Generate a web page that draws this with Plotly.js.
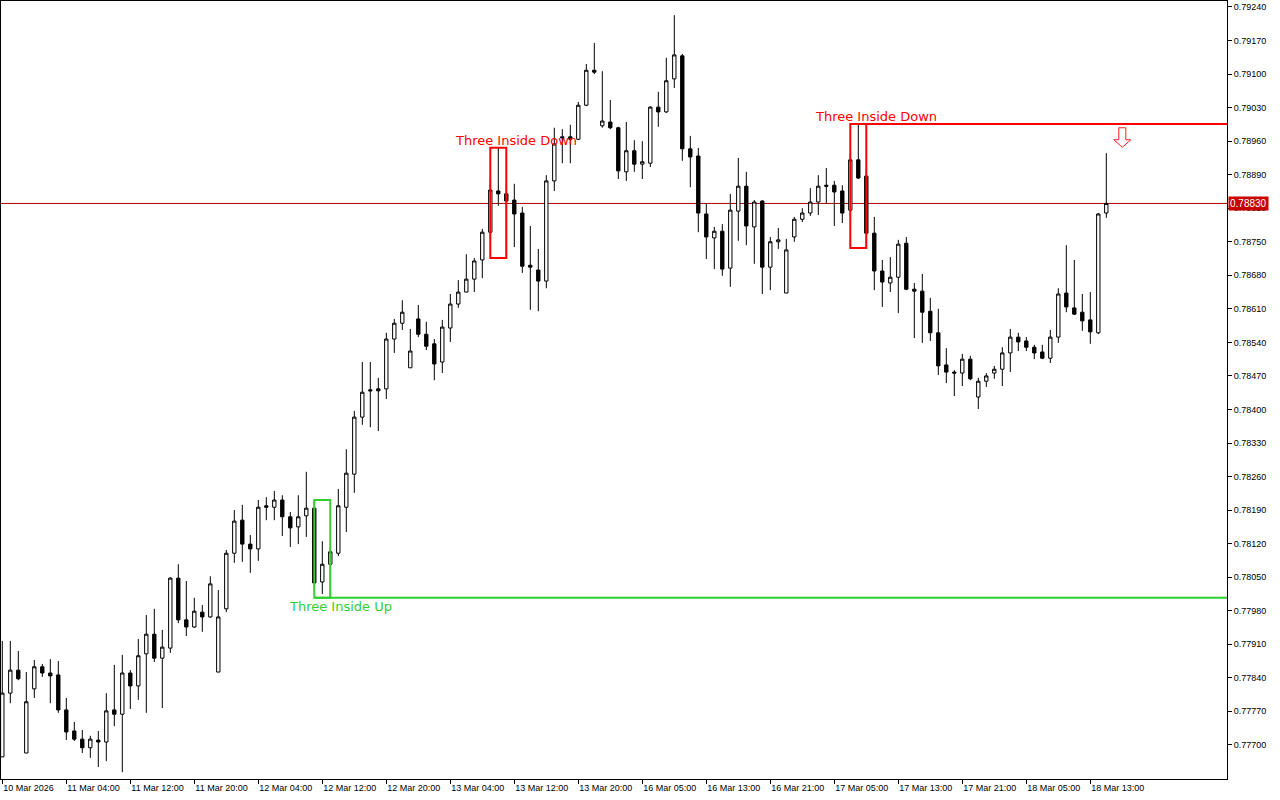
<!DOCTYPE html>
<html>
<head>
<meta charset="utf-8">
<script src="https://cdn.plot.ly/plotly-3.0.1.min.js"></script>
<style>
html,body{margin:0;padding:0;background:#fff;}
#chart{width:1280px;height:800px;}
</style>
</head>
<body>
<div id="chart"></div>
<script>
// ---- H1 candles (index 0 = 10 Mar 2026 20:00) ----
var open = [
0.77675,0.77808,0.77856,0.77683,0.77817,0.77863,0.77850,0.77846,0.77773,0.77729,
0.77712,0.77694,0.77710,0.77706,0.77773,0.77764,0.77850,0.77823,0.77890,0.77931,
0.77881,0.77902,0.78048,0.77961,0.77946,0.77977,0.77967,0.77852,0.77984,0.78100,
0.78169,0.78119,0.78109,0.78199,0.78196,0.78211,0.78176,0.78155,0.78178,0.78194,
0.78040,0.78077,0.78100,0.78196,0.78265,0.78384,0.78441,0.78443,0.78443,0.78547,
0.78580,0.78487,0.78589,0.78557,0.78537,0.78499,0.78570,0.78620,0.78645,0.78672,
0.78712,0.78770,0.78856,0.78850,0.78837,0.78810,0.78701,0.78691,0.78668,0.78877,
0.78969,0.78969,0.78964,0.79035,0.79108,0.78992,0.79000,0.78988,0.78896,0.78940,
0.78912,0.78914,0.79031,0.79021,0.79090,0.79138,0.78944,0.78929,0.78808,0.78758,
0.78772,0.78695,0.78814,0.78866,0.78781,0.78835,0.78697,0.78750,0.78643,0.78760,
0.78797,0.78810,0.78833,0.78868,0.78868,0.78856,0.78816,0.78921,0.78887,0.78768,
0.78689,0.78664,0.78676,0.78747,0.78651,0.78647,0.78605,0.78560,0.78493,0.78478,
0.78476,0.78505,0.78426,0.78459,0.78476,0.78484,0.78518,0.78551,0.78543,0.78530,
0.78520,0.78507,0.78551,0.78643,0.78612,0.78603,0.78587,0.78560,0.78810
];
var high = [
0.77917,0.77917,0.77896,0.77852,0.77877,0.77869,0.77879,0.77875,0.77798,0.77748,
0.77731,0.77719,0.77729,0.77808,0.77867,0.77888,0.77856,0.77921,0.77971,0.77984,
0.77940,0.78050,0.78077,0.78042,0.78007,0.77992,0.78052,0.78023,0.78107,0.78190,
0.78201,0.78138,0.78211,0.78217,0.78230,0.78221,0.78186,0.78221,0.78270,0.78211,
0.78125,0.78113,0.78234,0.78317,0.78397,0.78499,0.78499,0.78466,0.78560,0.78589,
0.78628,0.78568,0.78618,0.78583,0.78547,0.78587,0.78641,0.78670,0.78724,0.78716,
0.78777,0.78883,0.78946,0.78871,0.78871,0.78823,0.78783,0.78735,0.78889,0.78988,
0.78985,0.78994,0.79042,0.79121,0.79165,0.79106,0.79046,0.78990,0.79000,0.78962,
0.78960,0.79033,0.79063,0.79134,0.79223,0.79142,0.78971,0.78946,0.78831,0.78781,
0.78787,0.78850,0.78925,0.78896,0.78837,0.78837,0.78760,0.78779,0.78756,0.78802,
0.78820,0.78862,0.78889,0.78904,0.78877,0.78868,0.78935,0.78996,0.78904,0.78802,
0.78712,0.78718,0.78754,0.78760,0.78664,0.78683,0.78633,0.78610,0.78528,0.78482,
0.78516,0.78512,0.78466,0.78476,0.78491,0.78530,0.78568,0.78560,0.78551,0.78535,
0.78535,0.78566,0.78653,0.78743,0.78712,0.78641,0.78645,0.78810,0.78935
];
var low = [
0.77675,0.77787,0.77835,0.77683,0.77798,0.77842,0.77787,0.77767,0.77710,0.77708,
0.77683,0.77673,0.77654,0.77666,0.77739,0.77643,0.77775,0.77794,0.77767,0.77873,
0.77777,0.77892,0.77954,0.77927,0.77944,0.77936,0.77965,0.77852,0.77977,0.78080,
0.78082,0.78059,0.78084,0.78169,0.78169,0.78136,0.78113,0.78119,0.78134,0.78025,
0.78015,0.78007,0.78094,0.78144,0.78226,0.78368,0.78363,0.78355,0.78422,0.78518,
0.78566,0.78487,0.78551,0.78524,0.78461,0.78476,0.78541,0.78612,0.78645,0.78645,
0.78674,0.78756,0.78825,0.78716,0.78739,0.78685,0.78608,0.78605,0.78653,0.78856,
0.78914,0.78914,0.78962,0.79033,0.79100,0.78988,0.78985,0.78881,0.78877,0.78896,
0.78881,0.78906,0.78990,0.79019,0.79071,0.78919,0.78864,0.78770,0.78714,0.78693,
0.78679,0.78656,0.78752,0.78743,0.78704,0.78641,0.78649,0.78735,0.78643,0.78750,
0.78791,0.78804,0.78806,0.78829,0.78783,0.78789,0.78802,0.78881,0.78737,0.78649,
0.78614,0.78645,0.78601,0.78649,0.78549,0.78539,0.78543,0.78472,0.78455,0.78428,
0.78449,0.78461,0.78401,0.78447,0.78464,0.78449,0.78478,0.78522,0.78522,0.78505,
0.78505,0.78497,0.78539,0.78603,0.78597,0.78564,0.78537,0.78557,0.78800
];
var close = [
0.77808,0.77856,0.77838,0.77790,0.77863,0.77850,0.77844,0.77773,0.77727,0.77712,
0.77694,0.77712,0.77706,0.77771,0.77764,0.77850,0.77823,0.77886,0.77931,0.77881,
0.77904,0.78048,0.77961,0.77946,0.77979,0.77967,0.78036,0.77967,0.78100,0.78167,
0.78119,0.78109,0.78196,0.78196,0.78211,0.78176,0.78153,0.78176,0.78194,0.78038,
0.78077,0.78103,0.78199,0.78267,0.78384,0.78436,0.78439,0.78439,0.78547,0.78580,
0.78603,0.78522,0.78557,0.78532,0.78495,0.78572,0.78620,0.78645,0.78672,0.78710,
0.78770,0.78858,0.78850,0.78835,0.78808,0.78699,0.78697,0.78668,0.78877,0.78954,
0.78967,0.78964,0.79035,0.79108,0.79104,0.79002,0.78988,0.78898,0.78940,0.78912,
0.78917,0.79031,0.79021,0.79086,0.79140,0.78944,0.78927,0.78810,0.78760,0.78772,
0.78693,0.78816,0.78866,0.78783,0.78833,0.78697,0.78750,0.78754,0.78733,0.78797,
0.78810,0.78833,0.78866,0.78866,0.78854,0.78810,0.78921,0.78883,0.78768,0.78689,
0.78666,0.78676,0.78745,0.78651,0.78647,0.78603,0.78560,0.78491,0.78478,0.78476,
0.78505,0.78464,0.78459,0.78470,0.78484,0.78518,0.78551,0.78541,0.78530,0.78518,
0.78507,0.78551,0.78641,0.78614,0.78599,0.78585,0.78562,0.78808,0.78830
];

// time axis labels (every 8th bar)
var tickIndex = [0,8,16,24,32,40,48,56,64,72,80,88,96,104,112,120,128,136];
var tickLabels = ["10 Mar 2026","11 Mar 04:00","11 Mar 12:00","11 Mar 20:00","12 Mar 04:00",
  "12 Mar 12:00","12 Mar 20:00","13 Mar 04:00","13 Mar 12:00","13 Mar 20:00","16 Mar 05:00",
  "16 Mar 13:00","16 Mar 21:00","17 Mar 05:00","17 Mar 13:00","17 Mar 21:00","18 Mar 05:00","18 Mar 13:00"];

// price axis labels
var priceTicks = [0.77700,0.77770,0.77840,0.77910,0.77980,0.78050,0.78120,0.78190,0.78260,0.78330,
  0.78400,0.78470,0.78540,0.78610,0.78680,0.78750,0.78820,0.78890,0.78960,0.79030,0.79100,0.79170,0.79240];

// detected patterns
var patternName   = ["Three Inside Up","Three Inside Down","Three Inside Down"];
var patternStart  = [39, 61, 106];
var patternEnd    = [41, 63, 108];
var patternTop    = [0.78211, 0.78946, 0.78996];
var patternBottom = [0.78007, 0.78716, 0.78737];
var patternDir    = ["up","down","down"];
var levelPattern  = [0, 2];          // patterns whose level is extended to the right

// sell signal arrow
var signalIndex = 140;
var signalPrice = 0.78988;

var xs = open.map(function(_, i){ return i; });
var xRange = [-0.1625, 153.0875];
var yRange = [0.776288, 0.792525];

var trace = {
  type: 'candlestick',
  x: xs, open: open, high: high, low: low, close: close,
  increasing: {line: {color: '#000000', width: 1}, fillcolor: '#ffffff'},
  decreasing: {line: {color: '#000000', width: 1}, fillcolor: '#000000'},
  whiskerwidth: 0,
  hoverinfo: 'skip',
  showlegend: false
};

var shapes = [];
var annotations = [];
var lastClose = close[close.length - 1];

// bid line
shapes.push({type:'line', xref:'paper', x0:0, x1:1, yref:'y', y0:lastClose, y1:lastClose,
  line:{color:'#b00000', width:1}, layer:'below'});

patternName.forEach(function(name, k){
  var col = patternDir[k] === 'up' ? '#32cd32' : '#ff0000';
  shapes.push({type:'rect', xref:'x', yref:'y', x0:patternStart[k], x1:patternEnd[k],
    y0:patternBottom[k], y1:patternTop[k], line:{color:col, width:2}, fillcolor:'rgba(0,0,0,0)', layer:'above'});
  var up = patternDir[k] === 'up';
  annotations.push({xref:'x', yref:'y', x:(patternStart[k]+patternEnd[k])/2, xshift:18,
    y: up ? patternBottom[k] : patternTop[k], yanchor: up ? 'top' : 'bottom', xanchor:'center',
    yshift: up ? 0 : -1,
    text:name, showarrow:false, borderpad:0,
    font:{family:'DejaVu Sans, sans-serif', size:13, color: col}});
});
levelPattern.forEach(function(k){
  var col = patternDir[k] === 'up' ? '#32cd32' : '#ff0000';
  var lv = patternDir[k] === 'up' ? patternBottom[k] : patternTop[k];
  shapes.push({type:'line', xref:'x', yref:'y', x0:patternStart[k], x1:xRange[1], y0:lv, y1:lv,
    line:{color:col, width:2}, layer:'above'});
});

// arrow (pixel-sized, anchored to data)
shapes.push({type:'path', xref:'x', yref:'y', xsizemode:'pixel', ysizemode:'pixel',
  xanchor:signalIndex, yanchor:signalPrice,
  path:'M -3.5,0 L 3.5,0 L 3.5,-12 L 8.5,-12 L 0,-19.5 L -8.5,-12 L -3.5,-12 Z',
  line:{color:'#ff2020', width:1}, fillcolor:'#ffffff', layer:'above'});

// bid price label
annotations.push({xref:'paper', x:1, xanchor:'left', xshift:1, yref:'y', y:lastClose, yanchor:'middle',
  text:lastClose.toFixed(5), showarrow:false, bgcolor:'#c80000', borderpad:1,
  font:{family:'Liberation Sans, Arial, sans-serif', size:10, color:'#ffffff'}});

var layout = {
  width:1280, height:800,
  margin:{l:1, r:53, t:1, b:21, pad:0, autoexpand:false},
  paper_bgcolor:'#ffffff', plot_bgcolor:'#ffffff',
  showlegend:false,
  boxgap:0.4,
  xaxis:{range:xRange, type:'linear', showgrid:false, zeroline:false, rangeslider:{visible:false},
    tickmode:'array', tickvals:tickIndex, ticktext:tickLabels, ticks:'outside', ticklen:4, tickcolor:'#000',
    ticklabelposition:'outside right',
    showline:true, mirror:true, linecolor:'#000', linewidth:1,
    tickfont:{family:'Liberation Sans, Arial, sans-serif', size:9, color:'#000'}, fixedrange:true},
  yaxis:{range:yRange, side:'right', showgrid:false, zeroline:false,
    tickmode:'array', tickvals:priceTicks, tickformat:'.5f',
    ticks:'outside', ticklen:4, tickcolor:'#000',
    showline:true, mirror:true, linecolor:'#000', linewidth:1,
    tickfont:{family:'Liberation Sans, Arial, sans-serif', size:9, color:'#000'}, fixedrange:true},
  shapes:shapes,
  annotations:annotations
};

Plotly.newPlot('chart', [trace], layout, {staticPlot:true, displayModeBar:false});
</script>
</body>
</html>
